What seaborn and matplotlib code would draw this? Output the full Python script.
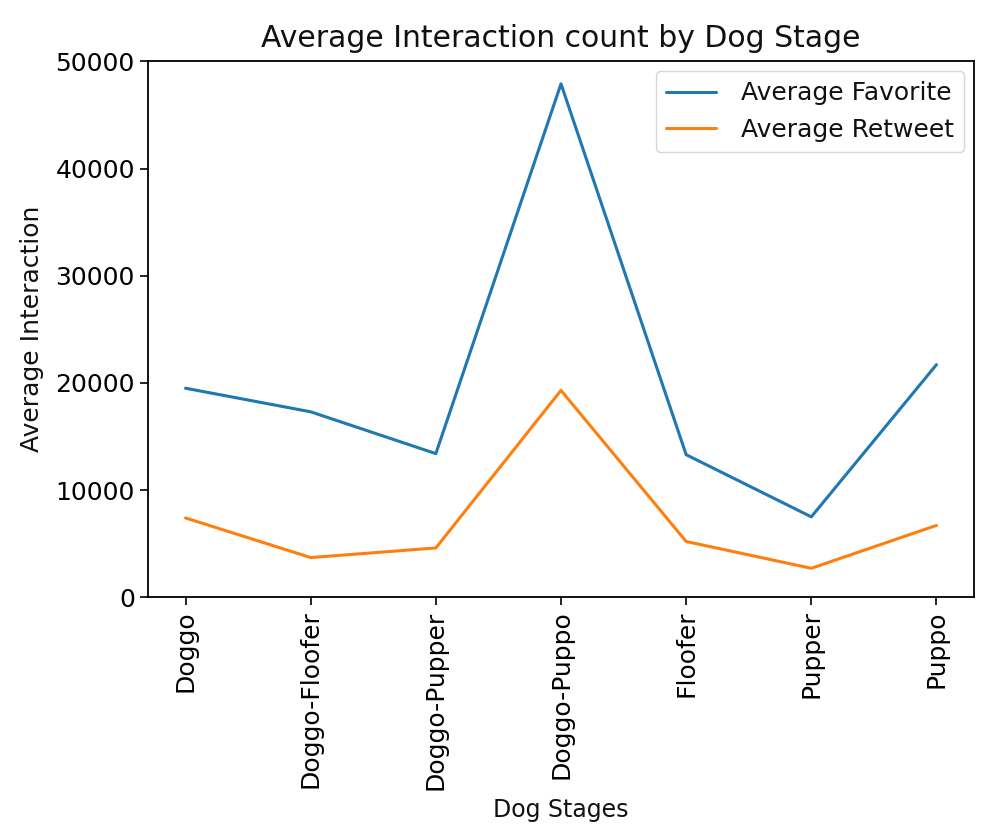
import pandas as pd
import matplotlib
matplotlib.use("Agg")
import matplotlib.pyplot as plt
import seaborn as sns

# données
stages = ["Doggo", "Doggo-Floofer", "Doggo-Pupper", "Doggo-Puppo", "Floofer", "Pupper", "Puppo"]
avg_favorite = [19500, 17300, 13400, 47900, 13300, 7500, 21700]
avg_retweet = [7400, 3700, 4600, 19300, 5200, 2700, 6700]

df = pd.DataFrame({
    "stage": stages * 2,
    "value": avg_favorite + avg_retweet,
    "serie": ["Average Favorite"] * len(stages) + ["Average Retweet"] * len(stages),
})

sns.set_style("ticks")
plt.rcParams["font.family"] = ["DejaVu Sans"]
plt.rcParams["axes.edgecolor"] = "black"
plt.rcParams["xtick.color"] = "black"
plt.rcParams["ytick.color"] = "black"
plt.rcParams["text.color"] = "#111111"
plt.rcParams["axes.labelcolor"] = "#111111"

fig, ax = plt.subplots(figsize=(10, 8.4), dpi=100)
fig.subplots_adjust(left=0.148, right=0.974, top=0.927, bottom=0.289)

sns.lineplot(data=df, x="stage", y="value", hue="serie", sort=False,
             palette=["#1f77b4", "#ff7f0e"], linewidth=2.2, ax=ax)

ax.set_title("Average Interaction count by Dog Stage", fontsize=21.5, pad=10)
ax.set_xlabel("Dog Stages", fontsize=17, labelpad=6)
ax.set_ylabel("Average Interaction", fontsize=18, labelpad=8)
ax.set_ylim(0, 50000)
ax.set_yticks([0, 10000, 20000, 30000, 40000, 50000])
ax.set_yticklabels(["0", "10000", "20000", "30000", "40000", "50000"])
ax.tick_params(axis="both", labelsize=18, length=6, width=1.2)
plt.xticks(rotation=90)
for s in ax.spines.values():
    s.set_linewidth(1.3)
    s.set_visible(True)

leg = ax.legend(loc="upper right", fontsize=18, frameon=True, handlelength=2.0,
                handletextpad=1.0, borderaxespad=0.4)
leg.get_frame().set_edgecolor("#cccccc")
leg.set_title(None)

fig.savefig("out.png", dpi=100)
